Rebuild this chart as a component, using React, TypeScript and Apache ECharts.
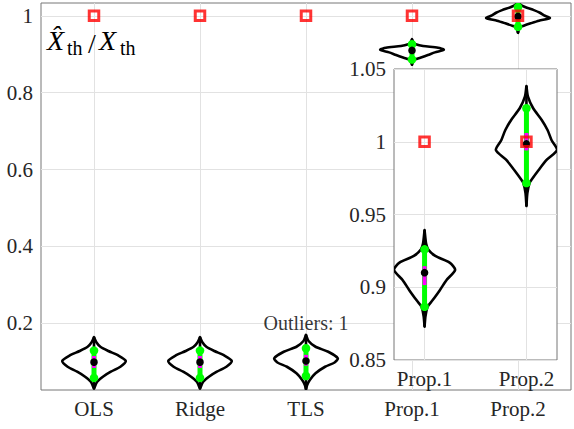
import React, { useEffect, useRef } from 'react';
import * as echarts from 'echarts';

// ---------- data ----------
const methods = ['OLS', 'Ridge', 'TLS', 'Prop.1', 'Prop.2'];
const insetMethodIdx = [3, 4];
const trueValues = [1, 1, 1, 1, 1];
const outlierCounts = [0, 0, 1, 0, 0];
const yTicksMain = [0.2, 0.4, 0.6, 0.8, 1];
const yTicksInset = [0.85, 0.9, 0.95, 1, 1.05];

// violin profiles: value positions and normalized density (half-width)
const olsY = [0.164, 0.15, 0.139, 0.128, 0.117, 0.102, 0.087, 0.074, 0.061, 0.048, 0.03];
const olsD = [0, 0.08, 0.2, 0.45, 0.75, 1.0, 0.83, 0.53, 0.28, 0.1, 0];
const ridgeY = [0.164, 0.15, 0.139, 0.128, 0.117, 0.102, 0.087, 0.074, 0.061, 0.048, 0.03];
const ridgeD = [0, 0.08, 0.2, 0.45, 0.75, 1.0, 0.83, 0.53, 0.28, 0.1, 0];
const tlsY = [0.17, 0.154, 0.139, 0.126, 0.109, 0.098, 0.087, 0.07, 0.0525, 0.04, 0.028];
const tlsD = [0, 0.08, 0.3, 0.7, 1.0, 0.9, 0.6, 0.3, 0.12, 0.04, 0];
const p1Y = [0.9393, 0.93, 0.926, 0.9215, 0.9169, 0.9119, 0.905, 0.898, 0.891, 0.8866, 0.88, 0.8729];
const p1D = [0, 0.05, 0.12, 0.35, 0.82, 1.0, 0.72, 0.5, 0.26, 0.1, 0.03, 0];
const p2Y = [1.0383, 1.031, 1.023, 1.015, 1.0081, 1.0012, 0.9943, 0.9875, 0.9806, 0.9737, 0.9716, 0.9648, 0.9558];
const p2D = [0, 0.05, 0.22, 0.5, 0.69, 0.82, 1.0, 0.66, 0.4, 0.16, 0.1, 0.03, 0];

const profilesY = [olsY, ridgeY, tlsY, p1Y, p2Y];
const profilesD = [olsD, ridgeD, tlsD, p1D, p2D];

// box statistics
const q3 = [0.129, 0.129, 0.135, 0.926, 1.023];
const q1 = [0.058, 0.058, 0.063, 0.8866, 0.9716];
const medians = [0.099, 0.099, 0.102, 0.91, 0.9985];
const notchHigh = [0.115, 0.115, 0.118, 0.9145, 1.006];
const notchLow = [0.084, 0.084, 0.09, 0.9015, 0.994];

// ---------- style ----------
const FONT = 'Liberation Serif';
const TEXT = '#262626';
const GRIDLINE = '#e2e2e2';
const FRAME = '#777777';
const HALF = 0.3;

function renderViolin(params: any, api: any) {
  const x = api.value(0);
  const k = api.value(2);
  const unit = api.size([1, 0])[0];
  const ys = profilesY[k];
  const ds = profilesD[k];
  const right = ys.map((y: number, i: number) => {
    const p = api.coord([x, y]);
    return [p[0] + ds[i] * HALF * unit, p[1]];
  });
  const left = ys
    .map((y: number, i: number) => {
      const p = api.coord([x, y]);
      return [p[0] - ds[i] * HALF * unit, p[1]];
    })
    .reverse();
  const top = api.coord([x, ys[0]]);
  const bot = api.coord([x, ys[ys.length - 1]]);
  const a = api.coord([x, q3[k]]);
  const b = api.coord([x, q1[k]]);
  const m = api.coord([x, medians[k]]);
  const nh = api.coord([x, notchHigh[k]]);
  const nl = api.coord([x, notchLow[k]]);
  return {
    type: 'group',
    children: [
      { type: 'line', shape: { x1: top[0], y1: top[1], x2: bot[0], y2: bot[1] }, style: { stroke: '#000', lineWidth: 2.6 } },
      { type: 'polygon', shape: { points: right.concat(left), smooth: 0.25 }, style: { fill: 'none', stroke: '#000', lineWidth: 2.6, lineJoin: 'round' } },
      { type: 'line', shape: { x1: a[0], y1: a[1], x2: b[0], y2: b[1] }, style: { stroke: '#00ff00', lineWidth: 5 } },
      { type: 'line', shape: { x1: nh[0], y1: nh[1], x2: nl[0], y2: nl[1] }, style: { stroke: '#ff00ff', lineWidth: 4 } },
      { type: 'circle', shape: { cx: a[0], cy: a[1], r: 4.3 }, style: { fill: '#00ff00' } },
      { type: 'circle', shape: { cx: b[0], cy: b[1], r: 4.3 }, style: { fill: '#00ff00' } },
      { type: 'circle', shape: { cx: m[0], cy: m[1], r: 3.8 }, style: { fill: '#000' } },
    ],
  };
}

function fmt(v: number) {
  return String(Math.round(v * 1000) / 1000);
}

export default function App() {
  const ref = useRef<HTMLDivElement>(null);
  useEffect(() => {
    const chart = echarts.init(ref.current!, null, { renderer: 'svg' });
    const labelStyle = { fontFamily: FONT, fontSize: 21, color: TEXT };
    const lbl = (x: number, y: number, text: string, size: number, italic: boolean) => ({
      type: 'text', x, y, z: 100,
      style: { text, fontFamily: FONT, fontSize: size, fontStyle: italic ? 'italic' : 'normal', fill: '#000', verticalAlign: 'middle' },
    });
    const option: any = {
      animation: false,
      grid: [
        { left: 41, top: 3, width: 530, height: 387, show: true, borderColor: FRAME, borderWidth: 1, backgroundColor: '#fff' },
        { left: 394, top: 69, width: 163, height: 291, show: true, borderColor: FRAME, borderWidth: 1, backgroundColor: '#fff', z: 20 },
      ],
      xAxis: [
        {
          type: 'value', gridIndex: 0, min: 0.5, max: 5.5,
          axisLine: { show: false },
          axisTick: { show: false, customValues: methods.map((_, i) => i + 1) },
          axisLabel: { ...labelStyle, margin: 8, customValues: methods.map((_, i) => i + 1), formatter: (v: number) => methods[Math.round(v) - 1] },
          splitLine: { show: true, lineStyle: { color: GRIDLINE, width: 1 } },
        },
        {
          type: 'value', gridIndex: 1, min: 0.7, max: 2.3, z: 21,
          axisLine: { show: false },
          axisTick: { show: false, customValues: [1, 2] },
          axisLabel: { ...labelStyle, margin: 8, customValues: [1, 2], formatter: (v: number) => methods[insetMethodIdx[Math.round(v) - 1]] },
          splitLine: { show: true, lineStyle: { color: GRIDLINE, width: 1 } },
        },
      ],
      yAxis: [
        {
          type: 'value', gridIndex: 0, min: 0.0265, max: 1.0335,
          axisLine: { show: false },
          axisTick: { show: false, customValues: yTicksMain },
          axisLabel: { ...labelStyle, margin: 8, customValues: yTicksMain, formatter: fmt },
          splitLine: { show: true, lineStyle: { color: GRIDLINE, width: 1 } },
        },
        {
          type: 'value', gridIndex: 1, min: 0.85, max: 1.05, z: 21,
          axisLine: { show: false },
          axisTick: { show: false, customValues: yTicksInset },
          axisLabel: { ...labelStyle, margin: 8, customValues: yTicksInset, formatter: fmt },
          splitLine: { show: true, lineStyle: { color: GRIDLINE, width: 1 } },
        },
      ],
      graphic: [
        lbl(47, 40, 'X\u0302', 28, true),
        lbl(67, 48, 'th', 20, false),
        lbl(88, 43, '/', 28, false),
        lbl(99, 40, 'X', 28, true),
        lbl(120, 48, 'th', 20, false),
      ],
      series: [
        {
          type: 'custom', xAxisIndex: 0, yAxisIndex: 0, clip: true, z: 2,
          encode: { x: 0, y: 1 },
          data: methods.map((_, i) => [i + 1, medians[i], i]),
          renderItem: renderViolin,
        },
        {
          type: 'scatter', xAxisIndex: 0, yAxisIndex: 0, z: 3,
          symbol: 'rect', symbolSize: 9.5,
          itemStyle: { color: 'rgba(0,0,0,0)', borderColor: '#ff0000', borderWidth: 3 },
          data: trueValues.map((v, i) => [i + 1, v]),
        },
        {
          type: 'scatter', xAxisIndex: 0, yAxisIndex: 0, z: 4, symbolSize: 0,
          data: outlierCounts.map((n, i) => (n > 0 ? [i + 1, 0.2, n] : null)).filter(Boolean),
          label: { show: true, position: 'inside', formatter: (p: any) => `Outliers: ${p.value[2]}`, fontFamily: FONT, fontSize: 20, color: '#000' },
        },
        {
          type: 'custom', xAxisIndex: 1, yAxisIndex: 1, clip: true, z: 22,
          encode: { x: 0, y: 1 },
          data: insetMethodIdx.map((k, j) => [j + 1, medians[k], k]),
          renderItem: renderViolin,
        },
        {
          type: 'scatter', xAxisIndex: 1, yAxisIndex: 1, z: 23,
          symbol: 'rect', symbolSize: 9.5,
          itemStyle: { color: 'rgba(0,0,0,0)', borderColor: '#ff0000', borderWidth: 3 },
          data: insetMethodIdx.map((k, j) => [j + 1, trueValues[k]]),
        },
      ],
    };
    chart.setOption(option);
    return () => chart.dispose();
  }, []);
  return <div ref={ref} style={{ position: 'fixed', left: 0, top: 0, width: 574, height: 429, background: '#fff' }} />;
}
